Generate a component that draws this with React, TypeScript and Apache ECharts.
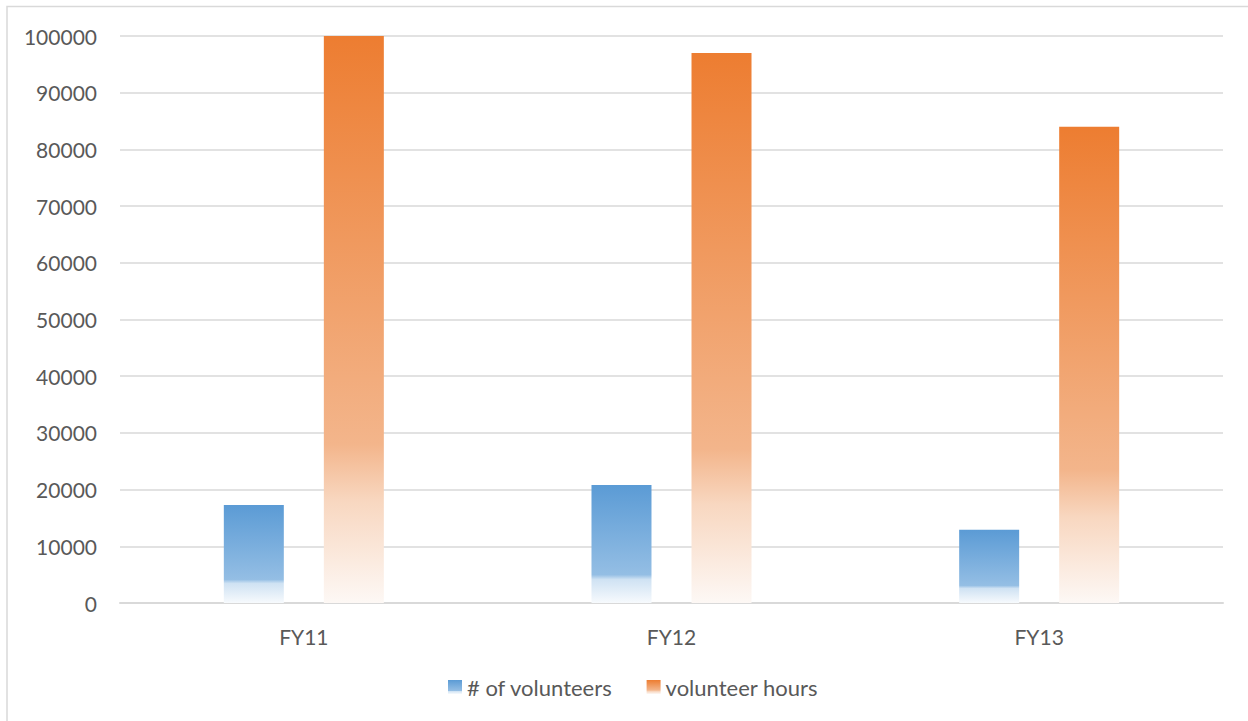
import React, { useEffect, useRef } from "react";
import * as echarts from "echarts";

const categories = ["FY11", "FY12", "FY13"];
const volunteers = [17300, 20800, 12900];
const volunteerHours = [100000, 97000, 84000];
const seriesNames = ["# of volunteers", "volunteer hours"];

const FONT = "Lato, 'Liberation Sans', sans-serif";

function grad(stops: [number, string][]) {
  return new echarts.graphic.LinearGradient(
    0, 0, 0, 1,
    stops.map(([offset, color]) => ({ offset, color }))
  );
}

export default function App() {
  const ref = useRef<HTMLDivElement>(null);
  useEffect(() => {
    if (!ref.current) return;
    const chart = echarts.init(ref.current, undefined, { renderer: "svg" });
    const blue = grad([
      [0, "#5B9BD5"],
      [0.76, "#94BEE4"],
      [0.8, "#CFE2F3"],
      [1, "#F7FAFD"],
    ]);
    const orange = grad([
      [0, "#ED7D31"],
      [0.72, "#F3B58B"],
      [0.82, "#F8D7C0"],
      [1, "#FDF8F5"],
    ]);
    chart.setOption({
      animation: false,
      backgroundColor: "#ffffff",
      graphic: [
        {
          type: "rect",
          shape: { x: 7, y: 6.5, width: 1400, height: 900 },
          style: { fill: "none", stroke: "#D9D9D9", lineWidth: 1.5 },
          silent: true,
        },
      ],
      grid: { left: 120, right: 25, top: 36, bottom: 118, containLabel: false },
      legend: {
        data: seriesNames,
        top: 671,
        left: 443,
        itemWidth: 14,
        itemHeight: 14,
        itemGap: 34,
        icon: "rect",
        textStyle: { color: "#595959", fontSize: 22, fontFamily: FONT },
      },
      xAxis: {
        type: "category",
        data: categories,
        axisLine: { lineStyle: { color: "#D9D9D9", width: 2 } },
        axisTick: { show: false },
        axisLabel: { color: "#595959", fontSize: 21, fontFamily: FONT, margin: 23 },
      },
      yAxis: {
        type: "value",
        min: 0,
        max: 100000,
        interval: 10000,
        axisLine: { show: false },
        axisTick: { show: false },
        axisLabel: {
          color: "#595959",
          fontSize: 21,
          fontFamily: FONT,
          margin: 23,
          formatter: (v: number) => String(v),
        },
        splitLine: { lineStyle: { color: "#D9D9D9", width: 1.5 } },
      },
      series: [
        {
          name: seriesNames[0],
          type: "bar",
          data: volunteers,
          barWidth: 60,
          barGap: "66.7%",
          itemStyle: { color: blue },
        },
        {
          name: seriesNames[1],
          type: "bar",
          data: volunteerHours,
          barWidth: 60,
          barGap: "66.7%",
          itemStyle: { color: orange },
        },
      ],
    });
    return () => chart.dispose();
  }, []);
  return (
    <div
      ref={ref}
      style={{ position: "absolute", left: 0, top: 0, width: 1248, height: 721 }}
    />
  );
}
